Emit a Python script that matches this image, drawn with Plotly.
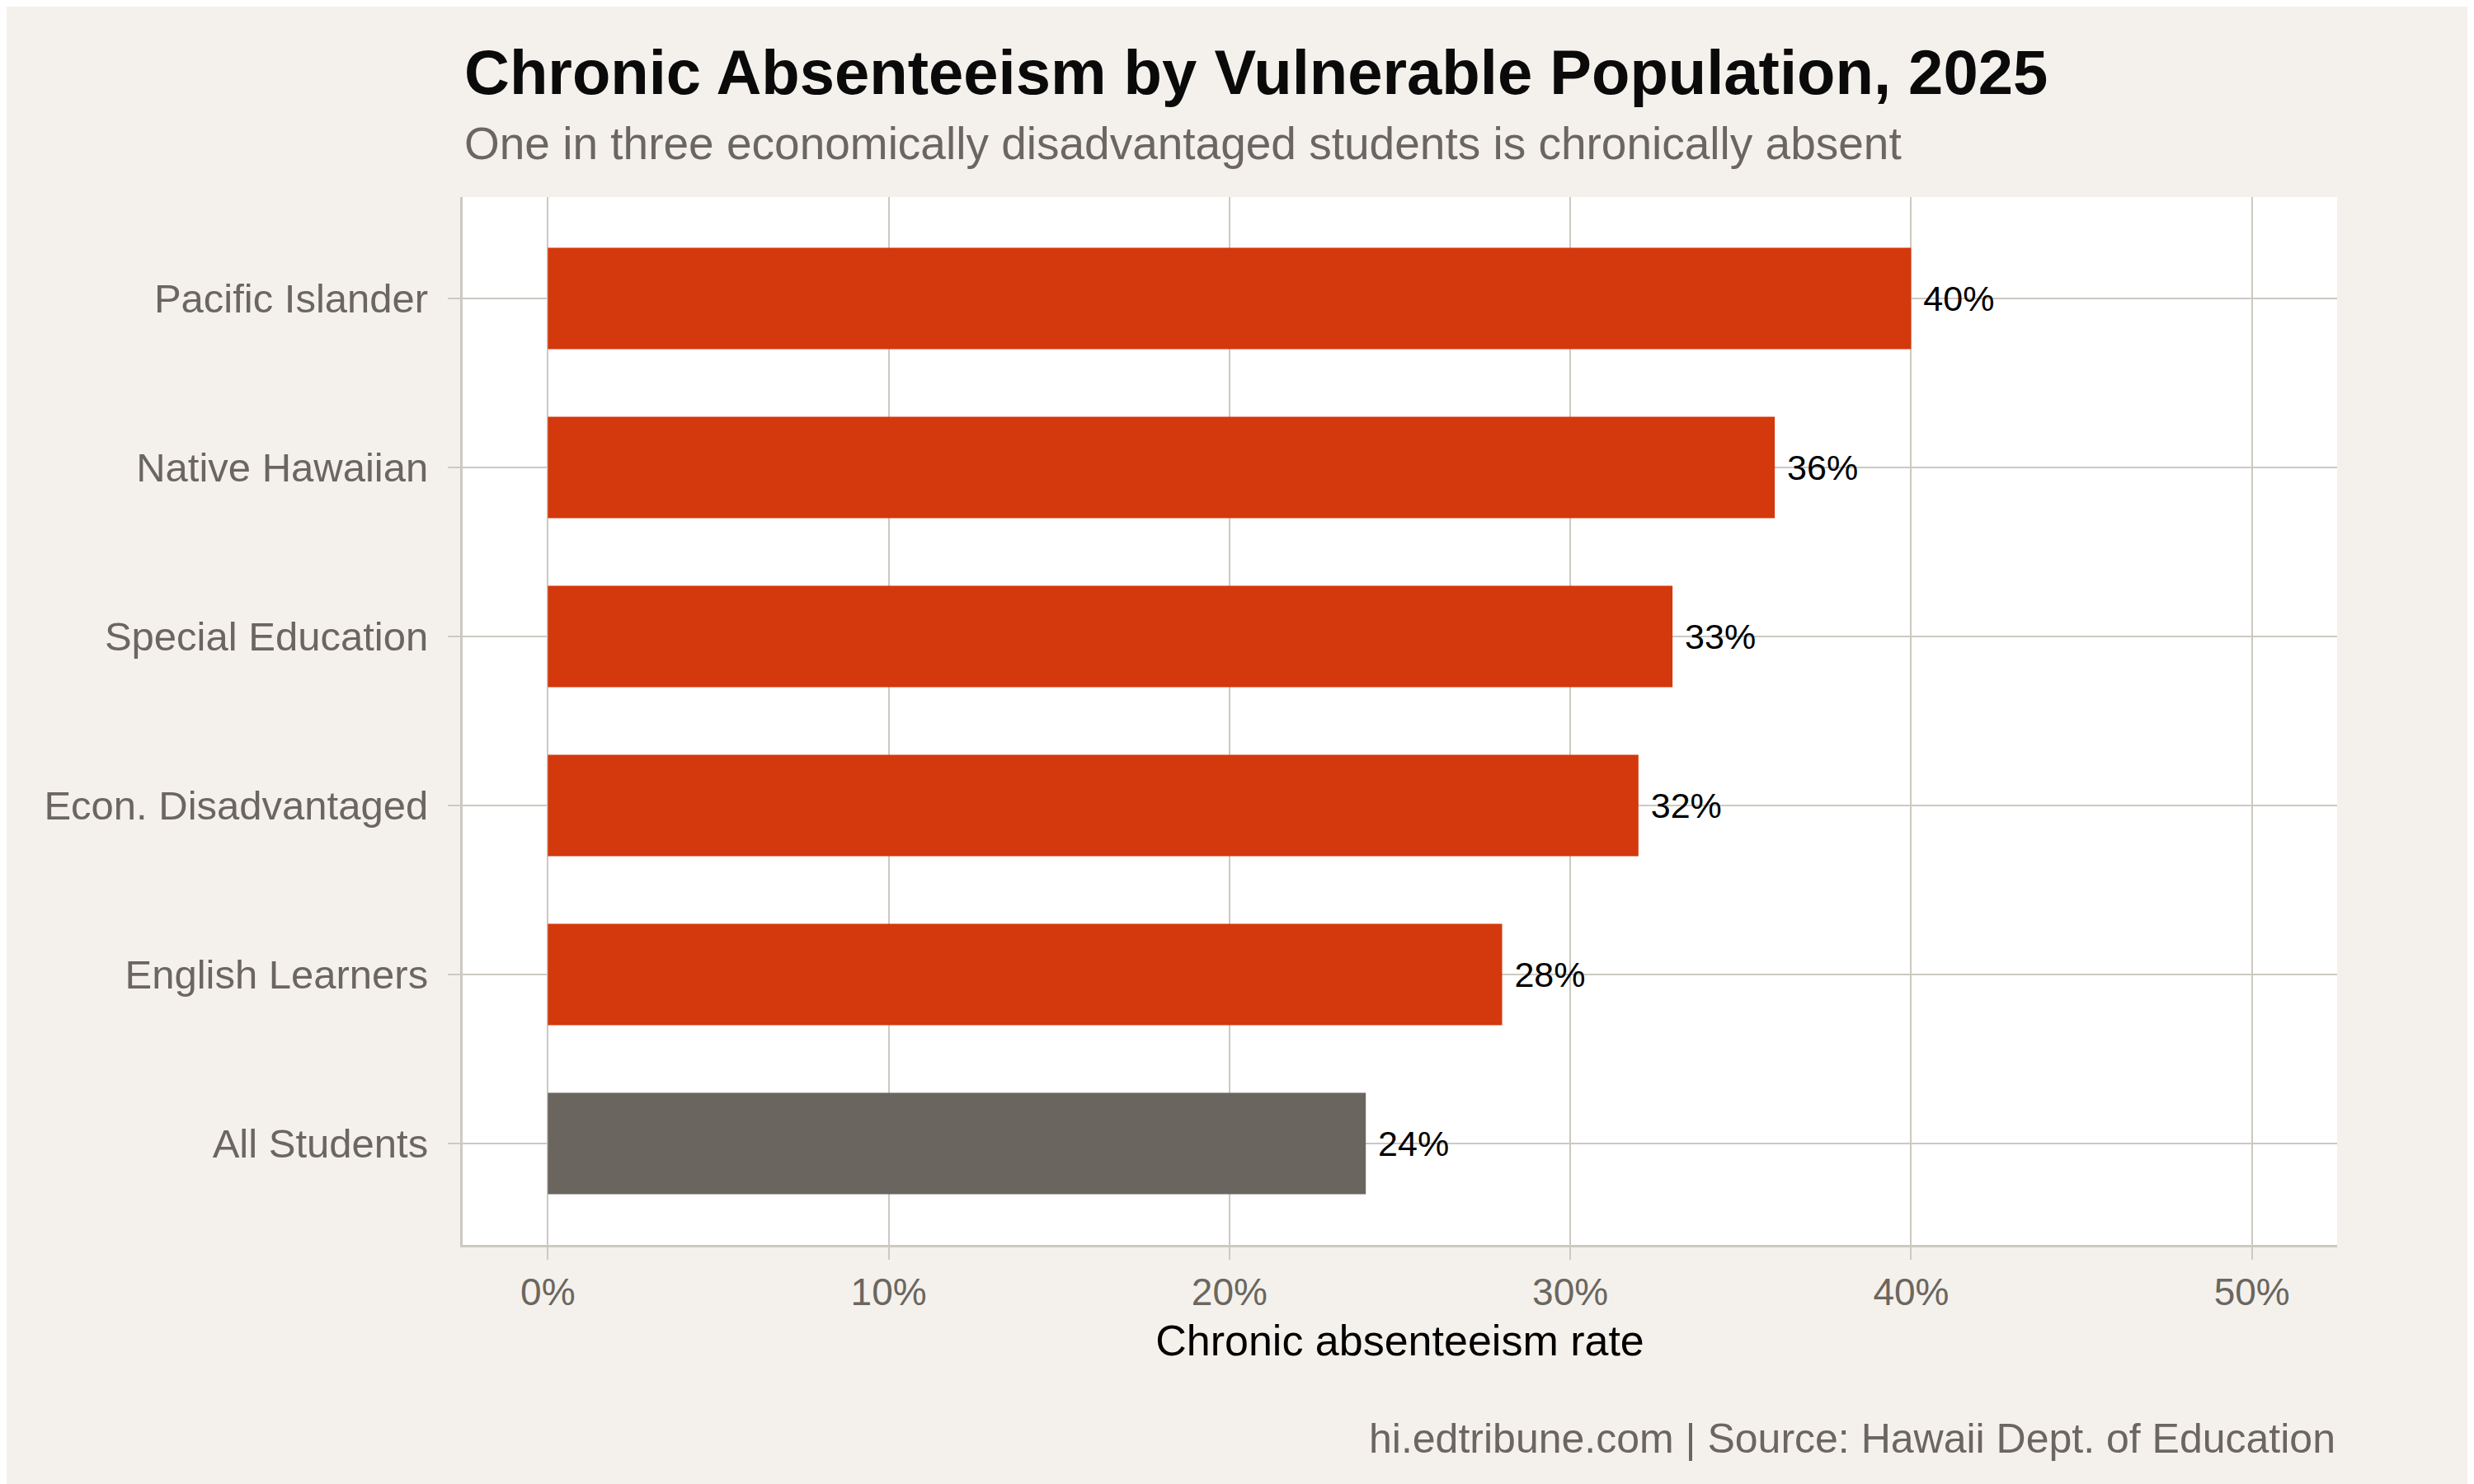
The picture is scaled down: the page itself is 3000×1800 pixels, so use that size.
import plotly.graph_objects as go

# data (bottom to top)
groups = ["All Students", "English Learners", "Econ. Disadvantaged",
          "Special Education", "Native Hawaiian", "Pacific Islander"]
rates = [24, 28, 32, 33, 36, 40]
bar_colors = ["#6a655e", "#d4380d", "#d4380d", "#d4380d", "#d4380d", "#d4380d"]
x_ticks = [0, 10, 20, 30, 40, 50]
x_labels = [f"{t}%" for t in x_ticks]

bg = "#f4f1ec"
grid = "#cdc9c1"
muted = "#6b665f"
font = "Liberation Sans"

fig = go.Figure()
fig.add_trace(go.Bar(
    x=rates, y=groups, orientation="h",
    marker=dict(color=bar_colors, line=dict(width=0)),
    width=0.6,
    text=[f"\u00a0{v}%" for v in rates],
    textposition="outside",
    textfont=dict(family=font, size=43, color="#000000"),
    cliponaxis=False,
    hoverinfo="skip",
))

fig.update_layout(
    width=3000, height=1800,
    paper_bgcolor=bg, plot_bgcolor="#ffffff",
    margin=dict(l=553, r=174, t=231, b=298),
    showlegend=False,
    font=dict(family=font, color=muted),
    xaxis=dict(
        range=[-2.5, 52.5], tickvals=x_ticks, ticktext=x_labels,
        showgrid=True, gridcolor=grid, gridwidth=2, zeroline=False,
        showline=True, linecolor=grid, linewidth=3,
        ticks="outside", ticklen=15, tickcolor=grid, tickwidth=2,
        tickfont=dict(size=46, color=muted),
        title=dict(text="Chronic absenteeism rate", standoff=16,
                   font=dict(size=52, color="#000000")),
    ),
    yaxis=dict(
        range=[-0.6, 5.6], showgrid=True, gridcolor=grid, gridwidth=2,
        showline=True, linecolor=grid, linewidth=3,
        ticks="outside", ticklen=15, tickcolor=grid, tickwidth=2,
        ticklabelstandoff=14,
        tickfont=dict(size=49, color=muted),
    ),
    annotations=[
        dict(text="<b>Chronic Absenteeism by Vulnerable Population, 2025</b>",
             xref="paper", yref="paper", x=0, y=1.119, xanchor="left", yanchor="middle",
             showarrow=False, font=dict(size=76, color="#0a0a0a")),
        dict(text="One in three economically disadvantaged students is chronically absent",
             xref="paper", yref="paper", x=0, y=1.051, xanchor="left", yanchor="middle",
             showarrow=False, font=dict(size=55, color=muted)),
        dict(text="hi.edtribune.com | Source: Hawaii Dept. of Education",
             xref="paper", yref="paper", x=1, y=-0.185, xanchor="right", yanchor="middle",
             showarrow=False, font=dict(size=50, color=muted)),
    ],
)

fig.write_html("out.html")
